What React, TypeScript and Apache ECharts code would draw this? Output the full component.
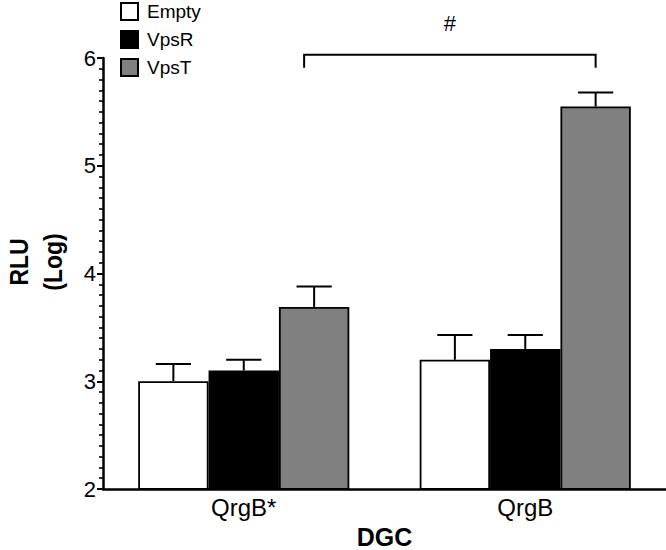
import React, { useEffect, useRef } from "react";
import * as echarts from "echarts";

const categories = ["QrgB*", "QrgB"];
const seriesNames = ["Empty", "VpsR", "VpsT"];
const emptyValues = [3.0, 3.2];
const vpsRValues = [3.1, 3.3];
const vpsTValues = [3.69, 5.55];
const emptyErrors = [0.16, 0.23];
const vpsRErrors = [0.1, 0.13];
const vpsTErrors = [0.19, 0.13];
const bracketFromCat = [0];
const bracketToCat = [1];
const bracketLevel = [6.03];
const bracketLabel = ["#"];
const yAxisTitle = "RLU\n(Log)";
const xAxisTitle = "DGC";

const values = [emptyValues, vpsRValues, vpsTValues];
const errors = [emptyErrors, vpsRErrors, vpsTErrors];
const fills = ["#ffffff", "#000000", "#808080"];
const CAT_GAP = 0.25;
const FONT = "Liberation Sans, Arial, sans-serif";

export default function App() {
  const ref = useRef<HTMLDivElement>(null);
  useEffect(() => {
    if (!ref.current) return;
    const chart = echarts.init(ref.current, null, { renderer: "svg" });

    const barSeries = seriesNames.map((name, i) => ({
      name,
      type: "bar",
      data: values[i],
      barGap: "0%",
      barCategoryGap: "25%",
      itemStyle: { color: fills[i], borderColor: "#000", borderWidth: 1.8 },
      z: 3,
    }));

    const errSeries = seriesNames.map((name, i) => ({
      name: name + "-err",
      type: "custom",
      z: 2,
      silent: true,
      data: values[i].map((v, c) => [c, v, v + errors[i][c]]),
      renderItem: (params: any, api: any) => {
        const c = api.value(0);
        const band = api.size([1, 0])[0];
        const bw = (band * (1 - CAT_GAP)) / 3;
        const base = api.coord([c, api.value(1)]);
        const top = api.coord([c, api.value(2)]);
        const x = base[0] + (i - 1) * bw;
        const half = bw / 4;
        const st = { stroke: "#000", lineWidth: 2 };
        return {
          type: "group",
          children: [
            { type: "line", shape: { x1: x, y1: base[1], x2: x, y2: top[1] }, style: st },
            { type: "line", shape: { x1: x - half, y1: top[1], x2: x + half, y2: top[1] }, style: st },
          ],
        };
      },
    }));

    const bracketSeries = {
      name: "bracket",
      type: "custom",
      silent: true,
      clip: false,
      z: 4,
      data: bracketFromCat.map((f, k) => [f, bracketToCat[k], bracketLevel[k]]),
      renderItem: (params: any, api: any) => {
        const band = api.size([1, 0])[0];
        const bw = (band * (1 - CAT_GAP)) / 3;
        const a = api.coord([api.value(0), api.value(2)]);
        const b = api.coord([api.value(1), api.value(2)]);
        const x1 = a[0] + bw - 10;
        const x2 = b[0] + bw;
        const y = a[1];
        const st = { stroke: "#000", lineWidth: 2, fill: "none" };
        return {
          type: "group",
          children: [
            { type: "polyline", shape: { points: [[x1, y + 13], [x1, y], [x2, y], [x2, y + 13]] }, style: st },
            {
              type: "text",
              x: (x1 + x2) / 2,
              y: y - 31,
              style: { text: bracketLabel[params.dataIndex], fontSize: 22, fontFamily: FONT, fill: "#000", align: "center", verticalAlign: "middle" },
            },
          ],
        };
      },
    };

    chart.setOption({
      animation: false,
      backgroundColor: "#fff",
      textStyle: { fontFamily: FONT, color: "#000" },
      grid: { left: 103, right: 0, top: 58, bottom: 61, containLabel: false, outerBoundsMode: "none" },
      legend: {
        data: seriesNames,
        orient: "vertical",
        left: 120,
        top: 2,
        padding: 0,
        itemWidth: 17,
        itemHeight: 17,
        itemGap: 9,
        icon: "rect",
        textStyle: { fontSize: 19, color: "#000", fontFamily: FONT, padding: [0, 0, 0, 4] },
      },
      graphic: [
        {
          type: "text",
          x: 36,
          y: 262,
          rotation: Math.PI / 2,
          scaleY: 1.15,
          style: {
            text: yAxisTitle,
            fontSize: 23,
            fontWeight: "bold",
            fontFamily: FONT,
            lineHeight: 30,
            fill: "#000",
            align: "center",
            verticalAlign: "middle",
          },
        },
      ],
      xAxis: {
        type: "category",
        data: categories,
        name: xAxisTitle,
        nameLocation: "middle",
        nameGap: 31,
        nameTextStyle: { fontSize: 25, lineHeight: 26, fontWeight: "bold", color: "#000", fontFamily: FONT },
        axisLine: { lineStyle: { color: "#000", width: 2.5 } },
        axisTick: { alignWithLabel: true, length: 6, lineStyle: { color: "#000", width: 2 } },
        axisLabel: { fontSize: 24, color: "#000", margin: 6, fontFamily: FONT },
      },
      yAxis: {
        type: "value",
        min: 2,
        max: 6,
        interval: 1,
        axisLine: { show: true, lineStyle: { color: "#000", width: 2.5 } },
        axisTick: { show: true, length: 6, lineStyle: { color: "#000", width: 2 } },
        minorTick: { show: true, splitNumber: 10, length: 4, lineStyle: { color: "#000", width: 1.6 } },
        axisLabel: { fontSize: 22, color: "#000", margin: 7, fontFamily: FONT },
        splitLine: { show: false },
      },
      series: [...errSeries, ...barSeries, bracketSeries],
    });
    return () => chart.dispose();
  }, []);
  return <div ref={ref} style={{ position: "fixed", left: 0, top: 0, width: 666, height: 550 }} />;
}
